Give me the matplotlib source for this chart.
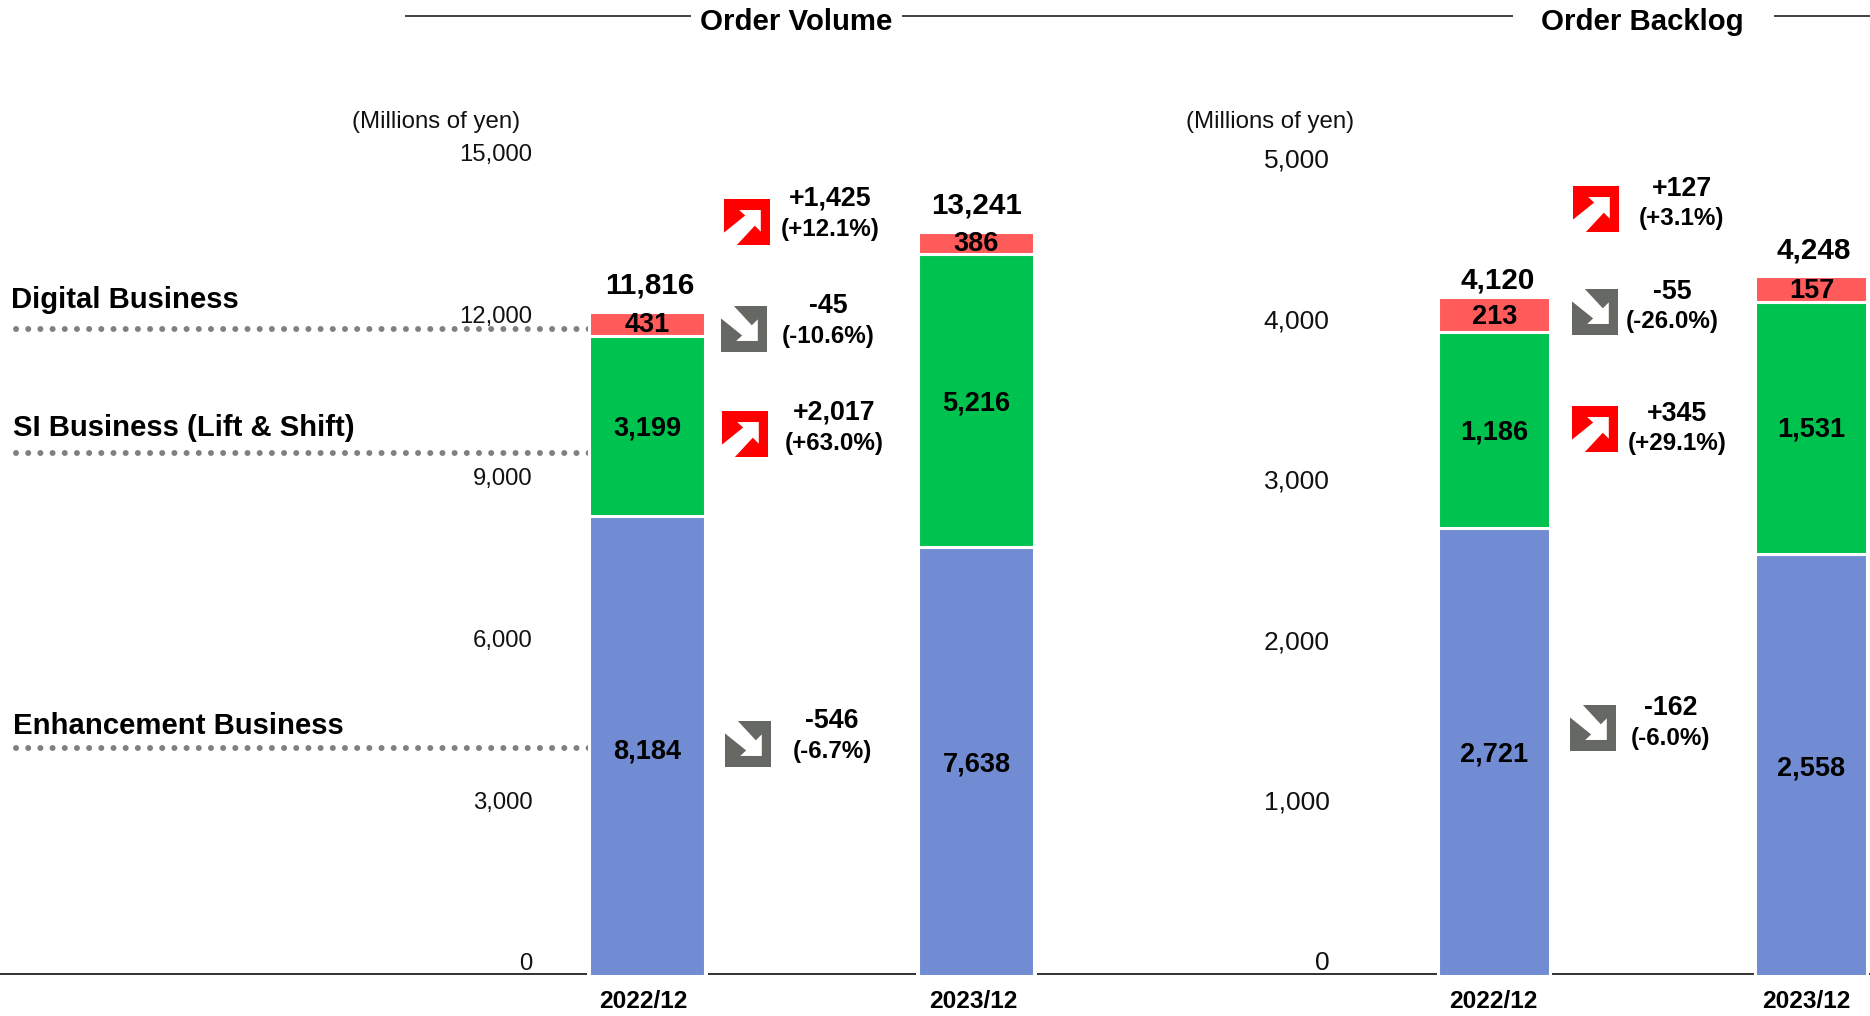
from matplotlib import pyplot as plt
from matplotlib.patches import Polygon, Rectangle

plt.rcParams['font.family'] = ['Liberation Sans', 'DejaVu Sans']

W, H = 1870, 1016

periods = ["2022/12", "2023/12"]

# order volume, millions of yen
vol_enhancement = [8184, 7638]
vol_si = [3199, 5216]
vol_digital = [431, 386]
vol_total = ["11,816", "13,241"]
vol_ticks = [0, 3000, 6000, 9000, 12000, 15000]

# order backlog, millions of yen
bl_enhancement = [2721, 2558]
bl_si = [1186, 1531]
bl_digital = [213, 157]
bl_total = ["4,120", "4,248"]
bl_ticks = [0, 1000, 2000, 3000, 4000, 5000]

# year on year change, top to bottom
vol_change = ["+1,425", "-45", "+2,017", "-546"]
vol_change_pct = ["(+12.1%)", "(-10.6%)", "(+63.0%)", "(-6.7%)"]
bl_change = ["+127", "-55", "+345", "-162"]
bl_change_pct = ["(+3.1%)", "(-26.0%)", "(+29.1%)", "(-6.0%)"]

BLUE = '#718CD2'
GREEN = '#00C24F'
RED = '#FF5B5B'
ARROW_RED = '#FF0000'
ARROW_GREY = '#666864'


def px_axes(fig, x0, x1, y_top, y_bottom):
    ax = fig.add_axes([x0 / W, 1 - y_bottom / H, (x1 - x0) / W, (y_bottom - y_top) / H])
    ax.patch.set_alpha(0)
    return ax


def draw_bars(fig, x0, x1, c0, step, bar_w, y_zero, scale, enh, si, dig, nudge, zorder):
    ax = px_axes(fig, x0, x1, 60, y_zero)
    ax.set_zorder(zorder)
    ax.set_xlim((x0 - c0) / step, (x1 - c0) / step)
    ax.set_ylim(0, (y_zero - 60) / scale)
    ax.axis('off')
    xs = list(range(len(enh)))
    width = (bar_w + 3) / step
    style = dict(width=width, edgecolor='white', linewidth=2.2, clip_on=False)
    b1 = [e + s for e, s in zip(enh, si)]
    ax.bar(xs, enh, color=BLUE, **style)
    ax.bar(xs, si, bottom=enh, color=GREEN, **style)
    ax.bar(xs, dig, bottom=b1, color=RED, **style)
    for i in xs:
        parts = ((0, enh[i]), (enh[i], si[i]), (b1[i], dig[i]))
        for k, (bottom, val) in enumerate(parts):
            ax.annotate(f"{val:,}", (i, bottom + val / 2), xytext=(1, -nudge[k][i]),
                        textcoords='offset pixels', ha='center', va='center',
                        fontsize=19.5, fontweight='bold', color='black')
    return ax


def draw_ticks(fig, x_right, y_top, y_zero, ticks, size):
    ax = px_axes(fig, x_right - 10, x_right + 10, y_top, y_zero)
    ax.set_ylim(ticks[0], ticks[-1])
    ax.set_xticks([])
    ax.set_yticks(ticks)
    ax.set_yticklabels([f"{t:,}" for t in ticks], fontsize=size)
    ax.tick_params(axis='y', length=0, pad=-10, labelcolor='#111111')
    for s in ax.spines.values():
        s.set_visible(False)


def change_arrow(ov, x, y, up):
    size = 46
    ov.add_patch(Rectangle((x, y), size, size, color=ARROW_RED if up else ARROW_GREY, lw=0))
    shape = [(0, 0.73), (0.46, 0.36), (0.33, 0.24), (0.80, 0.24), (0.80, 0.71),
             (0.67, 0.58), (0.28, 1.0), (0, 1.0)]
    if not up:
        shape = [(a, 1 - b) for a, b in shape]
    ov.add_patch(Polygon([(x + a * size, y + b * size) for a, b in shape], color='white', lw=0))


def change_block(ov, xc, y1, y2, txt, pct):
    ov.text(xc, y1 + 2, txt, ha='center', va='center', fontsize=19.3, fontweight='bold')
    ov.text(xc, y2 + 1.5, pct, ha='center', va='center', fontsize=17.4, fontweight='bold')


fig = plt.figure(dpi=100, figsize=(W / 100, H / 100))

# overlay in pixel coordinates for everything that is not a chart mark
ov = fig.add_axes([0, 0, 1, 1])
ov.set_xlim(0, W)
ov.set_ylim(H, 0)
ov.axis('off')

# baseline has small gaps around the left bars
for a, b in ((0, 587), (708, 916), (1037, W)):
    ov.plot([a, b], [974, 974], color='#222222', lw=1.3, solid_capstyle='butt')

# header rules
for a, b in ((405, 691), (902, 1513), (1774, W)):
    ov.plot([a, b], [16, 16], color='#333333', lw=1.3, solid_capstyle='butt')
ov.text(796, 22, "Order Volume", ha='center', va='center', fontsize=21.2, fontweight='bold')
ov.text(1642, 22, "Order Backlog", ha='center', va='center', fontsize=21.2, fontweight='bold')

ov.text(436, 122, "(Millions of yen)", ha='center', va='center', fontsize=17.3, color='#111111')
ov.text(1270, 122, "(Millions of yen)", ha='center', va='center', fontsize=17.3, color='#111111')

draw_ticks(fig, 528.5, 152, 962, vol_ticks, 17.2)
draw_ticks(fig, 1325.5, 158, 961, bl_ticks, 19)

# business labels with dotted leaders
ov.text(11, 300, "Digital Business", ha='left', va='center', fontsize=21.1, fontweight='bold')
ov.text(13, 428.5, "SI Business (Lift & Shift)", ha='left', va='center', fontsize=21.1, fontweight='bold')
ov.text(13, 726.5, "Enhancement Business", ha='left', va='center', fontsize=21.1, fontweight='bold')
for y, end in ((329, 589), (453, 589), (748, 589)):
    ov.plot([16, end], [y, y], color='#808080', lw=4.3, linestyle=(0, (0.01, 2.03)),
            dash_capstyle='round', zorder=5)

draw_bars(fig, 480, 1130, 646.5, 329, 113, 976, 0.0562,
          vol_enhancement, vol_si, vol_digital,
          [[5, 3], [2.5, 3], [1, 1]], 3)
draw_bars(fig, 1300, 1868, 1493.5, 317, 109, 976, 0.1648,
          bl_enhancement, bl_si, bl_digital,
          [[2.3, 3.4], [2.7, 1.5], [2, 2]], 4)

# totals and x labels
for x, y, t in ((650, 285.5, vol_total[0]), (977, 206, vol_total[1]),
                (1498, 280.5, bl_total[0]), (1814, 250.5, bl_total[1])):
    ov.text(x, y, t, ha='center', va='center', fontsize=21.3, fontweight='bold')
for x, y, t in ((643, 1002, periods[0]), (973, 1001, periods[1]),
                (1493, 1002, periods[0]), (1806, 1002, periods[1])):
    ov.text(x, y, t, ha='center', va='center', fontsize=17.6, fontweight='bold')

# change arrows and figures
vol_box = [(724, 199, True), (721, 306, False), (722, 411, True), (725, 721, False)]
vol_pos = [(830, 197, 228), (828, 304, 335), (834, 411, 442), (832, 719, 750)]
bl_box = [(1573, 186, True), (1572, 289, False), (1572, 406, True), (1570, 705, False)]
bl_pos = [(1682, 187, 217), (1672, 290, 320), (1677, 412, 442), (1671, 706, 737)]

for i in range(4):
    change_arrow(ov, *vol_box[i])
    change_block(ov, *vol_pos[i], vol_change[i], vol_change_pct[i])
    change_arrow(ov, *bl_box[i])
    change_block(ov, *bl_pos[i], bl_change[i], bl_change_pct[i])

plt.savefig('out.png', dpi=100)
